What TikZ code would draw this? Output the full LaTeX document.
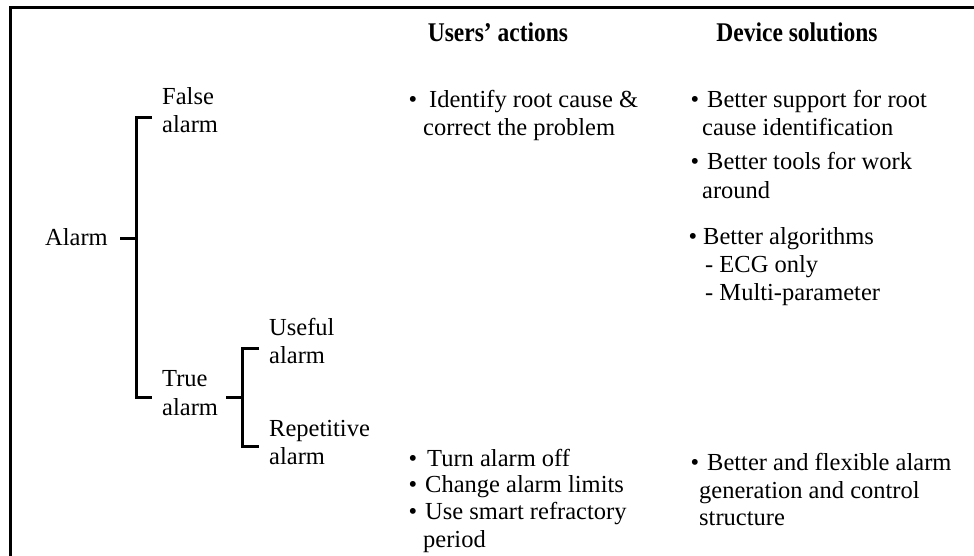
\documentclass[tikz,border=0pt]{standalone}
\usepackage{fontspec}
\setmainfont{Liberation Serif}
\usepackage{graphicx}
\begin{document}
\begin{tikzpicture}[x=1pt,y=-1pt,
  txt/.style={inner sep=0pt, anchor=base west, font=\fontsize{24.5}{30}\selectfont},
  bul/.style={inner sep=0pt, anchor=base, font=\fontsize{24.5}{30}\selectfont},
  hd/.style={inner sep=0pt, anchor=base, font=\fontsize{27}{32}\selectfont\bfseries},
  br/.style={line width=3pt},
  frame/.style={line width=3pt}]
\useasboundingbox (0,0) rectangle (974,556);
\fill[white] (0,0) rectangle (974,556);
% frame (only left and top edges visible)
\coordinate (fbl) at (10.5,556);
\coordinate (ftl) at (10.5,7.5);
\coordinate (ftr) at (974,7.5);
\draw[frame] (fbl) -- (ftl) -- (ftr);
% headers
\node[hd] (hU) at (498,42) {\scalebox{0.87}[1]{Users’ actions}};
\node[hd] (hD) at (797,42) {\scalebox{0.87}[1]{Device solutions}};
% tree labels
\node[txt, anchor=base east] (alarm) at (108,245) {Alarm};
\node[txt] (false1) at (162,105) {False};
\node[txt] (false2) at (162,133) {alarm};
\node[txt] (true1) at (162,386) {True};
\node[txt] (true2) at (162,415) {alarm};
\node[txt] (use1) at (269,335) {Useful};
\node[txt] (use2) at (269,363) {alarm};
\node[txt] (rep1) at (269,436) {Repetitive};
\node[txt] (rep2) at (269,464) {alarm};
% bracket 1
\coordinate (a0) at (120,238);
\coordinate (a1) at (136,238);
\coordinate (ft0) at (152,118);
\coordinate (ft1) at (136,118);
\coordinate (tt1) at (136,397);
\coordinate (tt0) at (152,397);
\draw[br] (ft0) -- (ft1) -- (tt1) -- (tt0);
\draw[br] (a0) -- (a1);
% bracket 2
\coordinate (t0) at (226,397);
\coordinate (t1) at (242,397);
\coordinate (u0) at (259,348);
\coordinate (u1) at (242,348);
\coordinate (r1) at (242,446);
\coordinate (r0) at (259,446);
\draw[br] (u0) -- (u1) -- (r1) -- (r0);
\draw[br] (t0) -- (t1);
% users' actions
\node[bul] (ub1) at (413,108) {•};
\node[txt] (ua1) at (429,108) {Identify root cause \&};
\node[txt] (ua2) at (423,136) {correct the problem};
\node[bul] (ub2) at (413,466) {•};
\node[txt] (ua3) at (427,466) {Turn alarm off};
\node[bul] (ub3) at (413,492) {•};
\node[txt] (ua4) at (425,492) {Change alarm limits};
\node[bul] (ub4) at (413,519) {•};
\node[txt] (ua5) at (425,519) {Use smart refractory};
\node[txt] (ua6) at (423,547) {period};
% device solutions
\node[bul] (db1) at (695,108) {•};
\node[txt] (ds1) at (707,108) {Better support for root};
\node[txt] (ds2) at (702,136) {cause identification};
\node[bul] (db2) at (695,170) {•};
\node[txt] (ds3) at (707,170) {Better tools for work};
\node[txt] (ds4) at (702,199) {around};
\node[bul] (db3) at (693,244) {•};
\node[txt] (ds5) at (703,244) {Better algorithms};
\node[txt] (ds6) at (705,272) {- ECG only};
\node[txt] (ds7) at (705,300) {- Multi-parameter};
\node[bul] (db4) at (695,470) {•};
\node[txt] (ds8) at (707,470) {Better and flexible alarm};
\node[txt] (ds9) at (699,498) {generation and control};
\node[txt] (ds10) at (699,525) {structure};
\end{tikzpicture}
\end{document}
